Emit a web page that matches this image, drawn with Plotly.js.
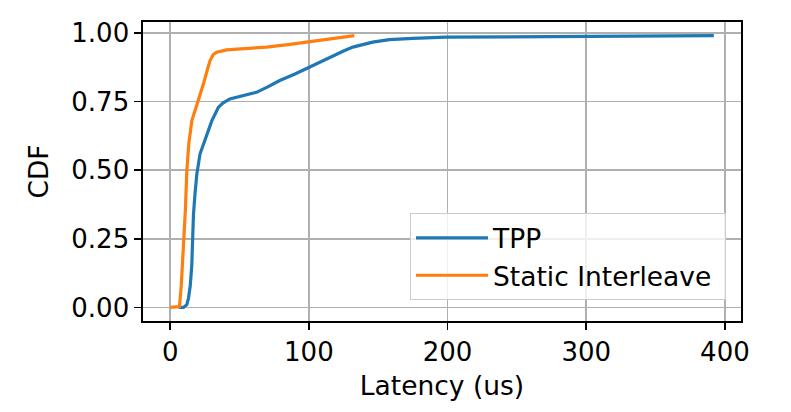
<!DOCTYPE html>
<html>
<head>
<meta charset="utf-8">
<script src="https://cdn.plot.ly/plotly-3.0.1.min.js"></script>
<style>html,body{margin:0;padding:0;background:#fff;}#chart{width:791px;height:412px;}</style>
</head>
<body>
<div id="chart"></div>
<script>
const tppX = [6, 9.6, 12, 13.2, 14.5, 15.6, 16.2, 16.8, 18, 19.2, 21.5, 26.3, 30, 34.7, 38, 43, 52, 62.2, 70, 79, 90, 100.5, 110, 117.3, 125, 131.7, 140, 146, 158, 175, 198.6, 250, 300, 350, 392];
const tppY = [0, 0, 0.01, 0.034, 0.08, 0.156, 0.25, 0.339, 0.42, 0.485, 0.559, 0.632, 0.68, 0.729, 0.745, 0.76, 0.772, 0.784, 0.803, 0.827, 0.851, 0.876, 0.9, 0.918, 0.935, 0.949, 0.96, 0.967, 0.976, 0.981, 0.985, 0.987, 0.988, 0.989, 0.991];
const siX = [0, 6.7, 8, 9.6, 11, 12, 13.5, 15.6, 18, 21, 24, 27, 28.8, 31, 33.5, 40.7, 55, 69.4, 85, 98, 115, 132.8];
const siY = [0, 0.003, 0.08, 0.217, 0.36, 0.497, 0.6, 0.68, 0.717, 0.76, 0.815, 0.87, 0.9, 0.922, 0.93, 0.939, 0.943, 0.949, 0.958, 0.967, 0.978, 0.991];
const xTicks = [0, 100, 200, 300, 400];
const yTicks = [0, 0.25, 0.5, 0.75, 1.0];
const yTickText = ["0.00", "0.25", "0.50", "0.75", "1.00"];
const seriesNames = ["TPP", "Static Interleave\u00a0"];

const font = {family: "DejaVu Sans", size: 26, color: "#000"};
const legendFont = {family: "DejaVu Sans", size: 26.5, color: "#000"};
const traces = [
  {x: tppX, y: tppY, type: "scatter", mode: "lines", name: seriesNames[0], line: {color: "#1f77b4", width: 3.2}},
  {x: siX, y: siY, type: "scatter", mode: "lines", name: seriesNames[1], line: {color: "#ff7f0e", width: 3.2}}
];
const axisCommon = {
  showgrid: true, gridcolor: "#b0b0b0", gridwidth: 1.6,
  showline: true, linecolor: "#000", linewidth: 1.6, mirror: true,
  ticks: "outside", ticklen: 7, tickwidth: 1.6, tickcolor: "#000",
  zeroline: false, tickfont: font
};
const layout = {
  width: 791, height: 412,
  margin: {l: 143, r: 50, t: 22, b: 91},
  paper_bgcolor: "#fff", plot_bgcolor: "#fff",
  font: font,
  showlegend: true,
  xaxis: Object.assign({}, axisCommon, {
    range: [-19.6, 411.6], tickvals: xTicks, ticktext: xTicks.map(String),
    title: {text: "Latency (us)", font: {family: "DejaVu Sans", size: 26.5, color: "#000"}, standoff: 10}
  }),
  yaxis: Object.assign({}, axisCommon, {
    range: [-0.0496, 1.0405], tickvals: yTicks, ticktext: yTickText,
    title: {text: "CDF", font: {family: "DejaVu Sans", size: 26.5, color: "#000"}, standoff: 15}
  }),
  legend: {
    x: 0.4465, y: 0.07, xanchor: "left", yanchor: "bottom",
    bgcolor: "rgba(255,255,255,0.8)", bordercolor: "#cccccc", borderwidth: 1,
    font: legendFont, tracegroupgap: 0, itemwidth: 72
  }
};
Plotly.newPlot("chart", traces, layout, {displayModeBar: false, staticPlot: true});
</script>
</body>
</html>
